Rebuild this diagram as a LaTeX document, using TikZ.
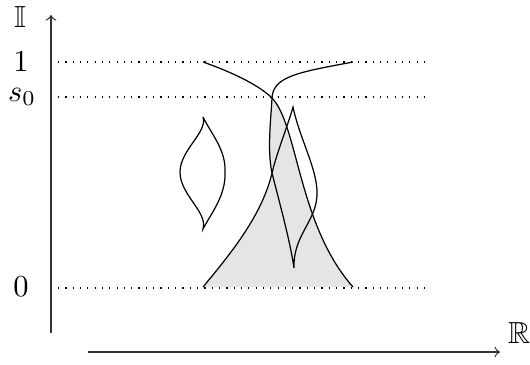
\documentclass[tikz,border=0pt]{standalone}
\usepackage{amssymb}
\begin{document}
\begin{tikzpicture}[x=0.328pt,y=-0.328pt,
  curve/.style={line width=0.4pt},
  guide/.style={dotted, line width=0.4pt},
  axis/.style={->, line width=0.4pt, black!80},
  lbl/.style={inner sep=0pt}]
\useasboundingbox (0,0) rectangle (530,364);
% key points
\coordinate (A0) at (203,62);
\coordinate (AB) at (272,98);
\coordinate (Aend) at (353,287);
\coordinate (B0) at (353,62);
\coordinate (BC) at (272,173);
\coordinate (V) at (294,268);
\coordinate (Cpk) at (293,107);
\coordinate (C0) at (203,287);
\coordinate (Cr) at (317,195);
\coordinate (T) at (203,117);
\coordinate (L) at (180,172);
\coordinate (Bt) at (203,229);
\coordinate (R) at (225,172);
% guides
\coordinate (g1a) at (58,62);  \coordinate (g1b) at (428,62);
\coordinate (g2a) at (58,97);  \coordinate (g2b) at (428,97);
\coordinate (g3a) at (58,288); \coordinate (g3b) at (428,288);
% axes
\coordinate (Yb) at (51,333); \coordinate (Yt) at (51,15);
\coordinate (Xa) at (88,352); \coordinate (Xb) at (500,352);

\fill[gray!20] (C0) .. controls (230,255) and (262,215) .. (BC)
  .. controls (267,150) and (271,118) .. (AB)
  .. controls (298,125) and (298,225) .. (Aend) -- cycle;

\draw[guide] (g1a) -- (g1b);
\draw[guide] (g2a) -- (g2b);
\draw[guide] (g3a) -- (g3b);

\draw[axis] (Yb) -- (Yt);
\draw[axis] (Xa) -- (Xb);

\draw[curve] (A0) .. controls (240,75) and (262,88) .. (AB)
  .. controls (298,125) and (298,225) .. (Aend);

\draw[curve] (B0) .. controls (300,72) and (273,76) .. (AB)
  .. controls (271,118) and (267,150) .. (BC)
  .. controls (278,197) and (290,240) .. (V)
  .. controls (293,235) and (316,222) .. (Cr)
  .. controls (318,170) and (300,140) .. (Cpk)
  .. controls (288,125) and (277,152) .. (BC)
  .. controls (262,215) and (232,252) .. (C0);

\draw[curve] (T) .. controls (208,132) and (180,150) .. (L)
  .. controls (180,195) and (208,212) .. (Bt)
  .. controls (212,212) and (226,195) .. (R)
  .. controls (226,150) and (212,135) .. (T);

\node[lbl] (lI) at (20,17) {$\mathbb{I}$};
\node[lbl] (l1) at (21,62) {$1$};
\node[lbl] (ls) at (22,97) {$s_0$};
\node[lbl] (l0) at (21,287) {$0$};
\node[lbl] (lR) at (519,333) {$\mathbb{R}$};
\end{tikzpicture}
\end{document}
